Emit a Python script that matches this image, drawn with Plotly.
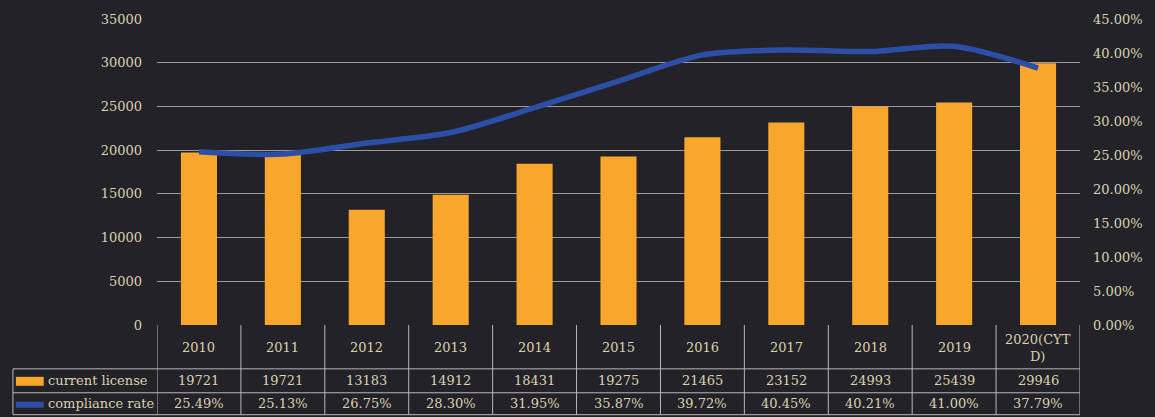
import plotly.graph_objects as go

# Yearly figures
years = ["2010", "2011", "2012", "2013", "2014", "2015", "2016", "2017", "2018", "2019", "2020(CYTD)"]
year_labels = ["2010", "2011", "2012", "2013", "2014", "2015", "2016", "2017", "2018", "2019", "2020(CYT<br>D)"]
current_license = [19721, 19721, 13183, 14912, 18431, 19275, 21465, 23152, 24993, 25439, 29946]
compliance_rate = [0.2549, 0.2513, 0.2675, 0.2830, 0.3195, 0.3587, 0.3972, 0.4045, 0.4021, 0.4100, 0.3779]

W, H = 1155, 417
L, R, T, B = 157, 1086, 18, 325   # plot area in pixels

BG = "#232228"
TXT = "#d9d1ae"
GRID = "#9a9a9a"
ORANGE = "#f8a62c"
BLUE = "#2d4ea6"
FONT = "DejaVu Serif"


def py(p):
    """pixel row -> paper y"""
    return (B - p) / (B - T)


def px(p):
    """pixel column -> paper x"""
    return (p - L) / (R - L)


fig = go.Figure()
fig.add_trace(go.Bar(
    x=years, y=current_license, name="current license",
    marker=dict(color=ORANGE, line=dict(width=0)), width=0.43,
))
fig.add_trace(go.Scatter(
    x=years, y=compliance_rate, name="compliance rate", yaxis="y2",
    mode="lines", line=dict(color=BLUE, width=5.5, shape="spline", smoothing=0.8),
))

shapes = []
annotations = []
n = len(years)
line_style = dict(color="#b8b8b8", width=1)

# data table grid: header row spans the category columns only
row_y = [B, 369, 393, 415]
for i in range(n + 1):
    shapes.append(dict(type="line", xref="x", yref="paper", x0=i - 0.5, x1=i - 0.5,
                       y0=py(row_y[0]), y1=py(row_y[-1]), line=line_style))
for yy in row_y[1:]:
    shapes.append(dict(type="line", xref="paper", yref="paper", x0=px(12), x1=px(R),
                       y0=py(yy), y1=py(yy), line=line_style))
shapes.append(dict(type="line", xref="paper", yref="paper", x0=px(12), x1=px(12),
                   y0=py(369), y1=py(415), line=line_style))

# legend keys inside the table
shapes.append(dict(type="rect", xref="paper", yref="paper", x0=px(15), x1=px(43),
                   y0=py(386), y1=py(377), fillcolor=ORANGE, line=dict(width=0)))
shapes.append(dict(type="rect", xref="paper", yref="paper", x0=px(15), x1=px(43),
                   y0=py(408), y1=py(402), fillcolor=BLUE, line=dict(width=0)))
for label, yy in (("current license", 381), ("compliance rate", 404)):
    annotations.append(dict(text=label, xref="paper", yref="paper", x=px(45), y=py(yy),
                            xanchor="left", yanchor="middle", showarrow=False,
                            font=dict(family=FONT, size=13, color=TXT)))

cell_font = dict(family=FONT, size=13, color=TXT)
for i in range(n):
    annotations.append(dict(text=year_labels[i], xref="x", yref="paper", x=i, y=py(348),
                            xanchor="center", yanchor="middle", showarrow=False, font=cell_font))
    annotations.append(dict(text=f"{current_license[i]}", xref="x", yref="paper", x=i, y=py(381),
                            xanchor="center", yanchor="middle", showarrow=False, font=cell_font))
    annotations.append(dict(text=f"{compliance_rate[i] * 100:.2f}%", xref="x", yref="paper", x=i,
                            y=py(404), xanchor="center", yanchor="middle", showarrow=False,
                            font=cell_font))

fig.update_layout(
    width=W, height=H,
    margin=dict(l=L, r=W - R, t=T, b=H - B),
    paper_bgcolor=BG, plot_bgcolor=BG,
    showlegend=False,
    xaxis=dict(type="category", showticklabels=False, showgrid=False, zeroline=False,
               showline=False, ticks="", range=[-0.5, n - 0.5]),
    yaxis=dict(range=[0, 35000], dtick=5000, tickformat="d", showgrid=True, gridcolor=GRID,
               gridwidth=1, zeroline=False, showline=False, ticks="", ticklabelstandoff=14,
               tickfont=dict(family=FONT, size=13, color=TXT)),
    yaxis2=dict(range=[0, 0.45], dtick=0.05, tickformat=".2%", overlaying="y", side="right",
                showgrid=False, zeroline=False, showline=False, ticks="", ticklabelstandoff=12,
                tickfont=dict(family=FONT, size=13, color=TXT)),
    shapes=shapes,
    annotations=annotations,
)

fig.write_html("out.html")
